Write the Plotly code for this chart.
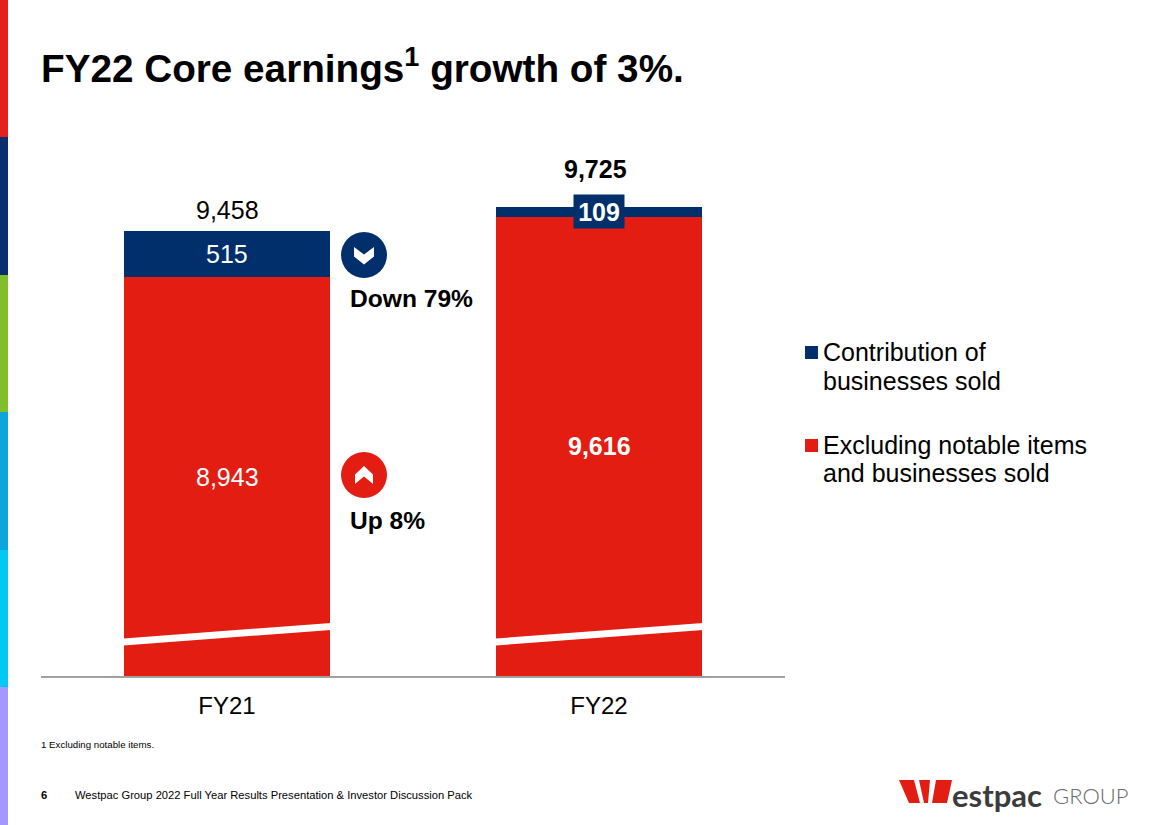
import plotly.graph_objects as go

categories = ["FY21", "FY22"]
excluding = [8943, 9616]
contribution = [515, 109]
totals = [9458, 9725]
excluding_labels = ["8,943", "9,616"]
contribution_labels = ["515", "109"]
total_labels = ["9,458", "9,725"]

W, H = 1168, 825
NAVY = "#002F6C"
RED = "#E41D13"
FONT = "Liberation Sans, Arial, sans-serif"
PLOT_L, PLOT_R, PLOT_T, PLOT_B = 41, 785, 140, 676
AXIS_MIN = 4508
AXIS_MAX = AXIS_MIN + (PLOT_B - PLOT_T) / 0.0899


def px(x):
    return x / W


def py(y):
    return 1 - y / H


def path(points):
    return "M " + " L ".join(f"{px(x):.5f},{py(y):.5f}" for x, y in points) + " Z"


fig = go.Figure()
fig.add_bar(
    x=categories, y=excluding, name="Excluding notable items and businesses sold",
    marker=dict(color=RED, line=dict(width=0)), hoverinfo="skip",
)
fig.add_bar(
    x=categories, y=contribution, name="Contribution of businesses sold",
    marker=dict(color=NAVY, line=dict(width=0)), hoverinfo="skip",
)

shapes = []
stripes = [("#E5211B", 0, 137), ("#0A2F6F", 137, 275), ("#7FBF2A", 275, 412),
           ("#0FA5DA", 412, 550), ("#00C8F5", 550, 687), ("#A497FF", 687, 825)]
for c, a, b in stripes:
    shapes.append(dict(type="rect", xref="paper", yref="paper", x0=0, x1=px(8), y0=py(a), y1=py(b),
                       fillcolor=c, line_width=0, layer="above"))

# axis-break strips across the bars
for left in (123.5, 495.5):
    right = left + 207.5
    shapes.append(dict(type="path", xref="paper", yref="paper", fillcolor="white", line_width=0, layer="above",
                       path=path([(left, 638.5), (right, 623), (right, 630), (left, 645.5)])))


def circle(cx, cy, r, color):
    shapes.append(dict(type="circle", xref="paper", yref="paper", x0=px(cx - r), x1=px(cx + r),
                       y0=py(cy + r), y1=py(cy - r), fillcolor=color, line_width=0, layer="above"))


circle(364, 255, 23, NAVY)
shapes.append(dict(type="path", xref="paper", yref="paper", fillcolor="white", line_width=0, layer="above",
                   path=path([(354, 247), (364, 254.5), (374, 247), (374, 256.5), (364, 264.5), (354, 256.5)])))
circle(364, 475, 23, RED)
shapes.append(dict(type="path", xref="paper", yref="paper", fillcolor="white", line_width=0, layer="above",
                   path=path([(355, 484), (364, 476.5), (373, 484), (373, 474.5), (364, 466), (355, 474.5)])))

# legend squares
for y, c in ((352.5, NAVY), (445.5, RED)):
    shapes.append(dict(type="rect", xref="paper", yref="paper", x0=px(805), x1=px(818), y0=py(y + 6.5), y1=py(y - 6.5),
                       fillcolor=c, line_width=0))

# logo mark
for pts in ([(899, 780), (914, 780), (920, 803), (909, 803)],
            [(919, 780), (930, 780), (928, 803), (924, 803)],
            [(936, 780), (952, 780), (947, 803), (932, 803)]):
    shapes.append(dict(type="path", xref="paper", yref="paper", fillcolor=RED, line_width=0, path=path(pts)))

annotations = []


def txt(x, y, text, size, color="#000000", bold=False, anchor="left", family=FONT, weight=None, **kw):
    font = dict(family=family, size=size, color=color)
    if weight:
        font["weight"] = weight
    annotations.append(dict(xref="paper", yref="paper", x=px(x), y=py(y), text=f"<b>{text}</b>" if bold else text,
                            showarrow=False, xanchor=anchor, yanchor="middle", align="left",
                            font=font, **kw))


def on_bar(i, y, text, size=25, color="white", bold=False, **kw):
    annotations.append(dict(x=categories[i], y=y, xref="x", yref="y", showarrow=False,
                            text=f"<b>{text}</b>" if bold else text,
                            font=dict(family=FONT, size=size, color=color), **kw))


txt(39, 66, "FY22 Core earnings<sup>1</sup> growth of 3%.", 38.7, bold=True)
txt(348, 298, "Down 79%", 24.6, bold=True)
txt(348, 520, "Up 8%", 24.6, bold=True)
txt(821, 352, "Contribution of", 25)
txt(821, 381, "businesses sold", 25)
txt(821, 445, "Excluding notable items", 25)
txt(821, 473, "and businesses sold", 25)
txt(39, 744, "1 Excluding notable items.", 9.7)
txt(39, 795, "<b>6</b>", 11.2)
txt(73, 795, "Westpac Group 2022 Full Year Results Presentation &amp; Investor Discussion Pack", 11.2)
txt(950, 795, "<b>estpac</b>", 31, color="#3C3C3C", family="Lato, sans-serif")
txt(1051, 795, "GROUP", 22, color="#6A6A6A", family="Lato, sans-serif", weight=300)

on_bar(0, (AXIS_MIN + excluding[0]) / 2, excluding_labels[0])
on_bar(1, (AXIS_MIN + excluding[1]) / 2, excluding_labels[1], bold=True)
on_bar(0, excluding[0] + contribution[0] / 2, contribution_labels[0])
on_bar(1, totals[1] - contribution[1] / 2, contribution_labels[1], bold=True,
       bgcolor=NAVY, borderpad=3, width=44, height=27)
on_bar(0, totals[0], total_labels[0], color="#000000", yanchor="bottom", yshift=5)
on_bar(1, totals[1], total_labels[1], color="#000000", bold=True, yanchor="bottom", yshift=22, xshift=-4)

fig.update_layout(
    width=W, height=H, margin=dict(l=0, r=0, t=0, b=0, pad=0),
    paper_bgcolor="white", plot_bgcolor="white", showlegend=False,
    barmode="stack", bargap=0.446,
    xaxis=dict(domain=[px(PLOT_L), px(PLOT_R)], type="category", showline=True, linecolor="#A0A0A0", linewidth=1.5,
               ticks="outside", ticklen=7, tickcolor="rgba(0,0,0,0)", showgrid=False,
               tickfont=dict(family=FONT, size=24, color="#000000")),
    yaxis=dict(domain=[py(PLOT_B), py(PLOT_T)], range=[AXIS_MIN, AXIS_MAX], visible=False),
    shapes=shapes, annotations=annotations,
)

fig.write_html("out.html", config=dict(displayModeBar=False),
               post_script="document.body.style.margin='0';document.body.style.overflow='hidden';")
